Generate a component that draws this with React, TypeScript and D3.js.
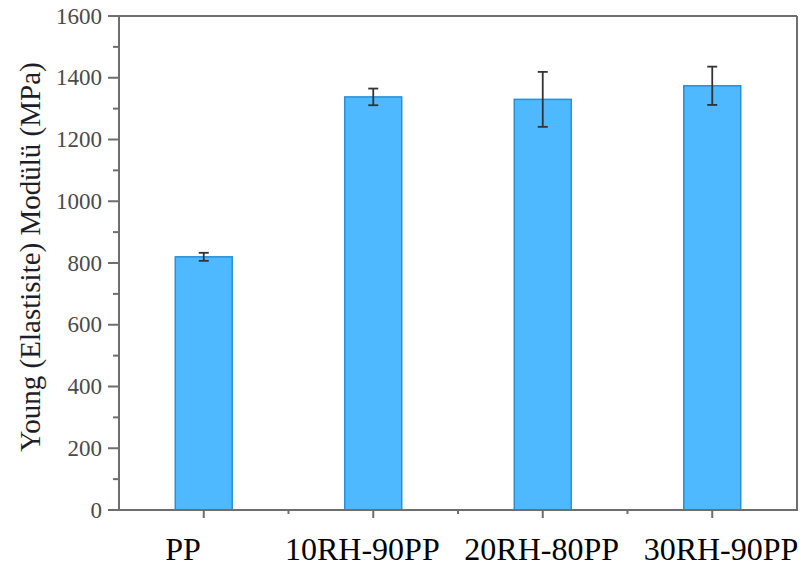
import React from "react";
import * as d3 from "d3";

const categories = ["PP", "10RH-90PP", "20RH-80PP", "30RH-90PP"];
const modulus = [820, 1338, 1330, 1374];
const errors = [13, 27, 89, 62];
const yTicks = [0, 200, 400, 600, 800, 1000, 1200, 1400, 1600];
const yMinorTicks = [100, 300, 500, 700, 900, 1100, 1300, 1500];
const yLabel = "Young (Elastisite) Modülü (MPa)";

const W = 803;
const H = 570;
const left = 119;
const right = 797;
const top = 16;
const bottom = 510;

export default function App() {
  const y = d3.scaleLinear().domain([0, 1600]).range([bottom, top]);
  const x = d3.scaleBand<string>().domain(categories).range([left, right]).padding(0);
  const step = x.step();
  const barW = step * 0.336;
  const labelX = d3.scalePoint<string>().domain(categories).range([183, 721]);
  const axisColor = "#6e6e6e";
  const font = "'Liberation Serif', 'Times New Roman', serif";

  const minorX = categories.slice(0, -1).map((c) => (x(c) as number) + step);

  return (
    <svg
      width={W}
      height={H}
      style={{ position: "absolute", left: 0, top: 0, background: "#fff" }}
    >
      {/* bars */}
      {categories.map((c, i) => {
        const cx = (x(c) as number) + step / 2;
        return (
          <rect
            key={c}
            x={cx - barW / 2}
            y={y(modulus[i])}
            width={barW}
            height={y(0) - y(modulus[i])}
            fill="#4fb9ff"
            stroke="#2a8fd6"
            strokeWidth={1.5}
          />
        );
      })}
      {/* error bars */}
      {categories.map((c, i) => {
        const cx = (x(c) as number) + step / 2;
        const y1 = y(modulus[i] + errors[i]);
        const y2 = y(modulus[i] - errors[i]);
        return (
          <g key={c} stroke="#333" strokeWidth={1.8}>
            <line x1={cx} x2={cx} y1={y1} y2={y2} />
            <line x1={cx - 5} x2={cx + 5} y1={y1} y2={y1} />
            <line x1={cx - 5} x2={cx + 5} y1={y2} y2={y2} />
          </g>
        );
      })}
      {/* frame */}
      <g stroke={axisColor} strokeWidth={2} fill="none">
        <line x1={left} x2={right} y1={top} y2={top} />
        <line x1={right} x2={right} y1={top} y2={bottom} />
        <line x1={left} x2={left} y1={top} y2={bottom} />
        <line x1={left - 1} x2={right + 1} y1={bottom} y2={bottom} />
      </g>
      {/* y ticks */}
      {yTicks.map((t) => (
        <g key={t}>
          <line x1={left - 11} x2={left} y1={y(t)} y2={y(t)} stroke={axisColor} strokeWidth={2} />
          <text
            x={102}
            y={y(t)}
            textAnchor="end"
            dominantBaseline="central"
            fontFamily={font}
            fontSize={23}
            fill="#4a4a4a"
          >
            {t}
          </text>
        </g>
      ))}
      {yMinorTicks.map((t) => (
        <line key={t} x1={left - 6} x2={left} y1={y(t)} y2={y(t)} stroke={axisColor} strokeWidth={2} />
      ))}
      {/* x ticks */}
      {categories.map((c) => {
        const cx = (x(c) as number) + step / 2;
        return (
          <line key={c} x1={cx} x2={cx} y1={bottom} y2={bottom + 8} stroke={axisColor} strokeWidth={2} />
        );
      })}
      {minorX.map((mx, i) => (
        <line key={i} x1={mx} x2={mx} y1={bottom} y2={bottom + 4} stroke={axisColor} strokeWidth={2} />
      ))}
      {/* x labels */}
      {categories.map((c) => (
        <text
          key={c}
          x={labelX(c)}
          y={560}
          textAnchor="middle"
          fontFamily={font}
          fontSize={32}
          fill="#000"
        >
          {c}
        </text>
      ))}
      {/* y label */}
      <text
        transform={`translate(40,257) rotate(-90)`}
        textAnchor="middle"
        fontFamily={font}
        fontSize={29}
        fill="#1e1e28"
      >
        {yLabel}
      </text>
    </svg>
  );
}
